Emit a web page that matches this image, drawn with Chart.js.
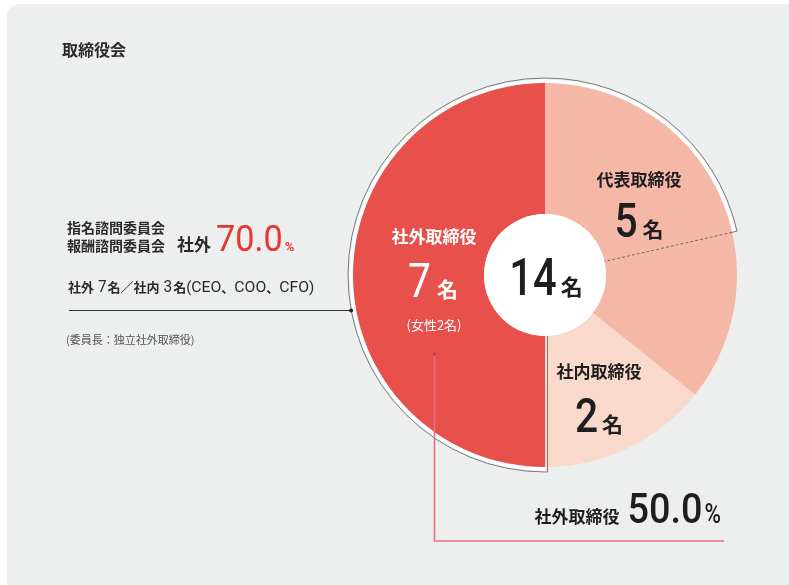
<!DOCTYPE html>
<html lang="ja">
<head>
<meta charset="utf-8">
<title>取締役会</title>
<script src="https://cdn.jsdelivr.net/npm/chart.js@4/dist/chart.umd.min.js"></script>
<style>
  html, body { margin: 0; padding: 0; background: #ffffff; overflow: hidden; }
  #card { position: absolute; left: 7px; top: 4px; width: 800px; height: 600px; border-radius: 12px; background: #edefee; }
  #wrap { position: absolute; left: 0; top: 0; width: 789px; height: 585px; }
</style>
</head>
<body>
<div id="card"></div>
<div id="wrap"><canvas id="board" width="789" height="585"></canvas></div>
<script>
// Board composition (persons)
const categories = ['代表取締役', '社内取締役', '社外取締役'];
const members = [5, 2, 7];
const outsideWomen = 2;

// Nomination / compensation advisory committees
const committeeOutside = 7;
const committeeInside = 3;
const committeeInsideRoles = ['CEO', 'COO', 'CFO'];

const sliceColors = ['#f6b8a6', '#fad9cd', '#e8504b'];

const JP = '"Noto Sans CJK JP", "Noto Sans", sans-serif';
const NUM = 'Roboto, "Liberation Sans", sans-serif';

const total = members.reduce((a, b) => a + b, 0);
const boardOutsidePct = (members[2] / total * 100).toFixed(1);
const committeePct = (committeeOutside / (committeeOutside + committeeInside) * 100).toFixed(1);

// Draw a line of mixed-font text pieces sharing one baseline
function runWidth(ctx, parts) {
  let w = 0;
  for (const p of parts) {
    ctx.font = p.f;
    w += ctx.measureText(p.t).width * (p.sx || 1) + (p.gap || 0);
  }
  return w;
}
function drawRun(ctx, parts, x, y, align) {
  const w = runWidth(ctx, parts);
  let cx = align === 'center' ? x - w / 2 : align === 'right' ? x - w : x;
  ctx.textAlign = 'left';
  ctx.textBaseline = 'alphabetic';
  for (const p of parts) {
    ctx.font = p.f;
    ctx.fillStyle = p.c;
    const sx = p.sx || 1;
    ctx.save();
    ctx.translate(cx, y);
    ctx.scale(sx, 1);
    ctx.fillText(p.t, 0, 0);
    ctx.restore();
    cx += ctx.measureText(p.t).width * sx + (p.gap || 0);
  }
}

const boardPlugin = {
  id: 'boardPlugin',
  afterDatasetsDraw(chart) {
    const ctx = chart.ctx;
    const arcs = chart.getDatasetMeta(0).data;
    const rep = arcs[0], outside = arcs[2];
    const cx = rep.x, cy = rep.y, ri = rep.innerRadius, ro = rep.outerRadius;
    const R = ro + 5;

    ctx.save();
    // white centre disc
    ctx.fillStyle = '#ffffff';
    ctx.beginPath();
    ctx.arc(cx, cy, ri, 0, Math.PI * 2);
    ctx.fill();

    // committee share of the board: outside directors + inside members
    const split = rep.startAngle + (rep.endAngle - rep.startAngle) * committeeInside / members[0];
    const a0 = outside.startAngle;
    const a1 = split + Math.PI * 2;

    ctx.strokeStyle = '#ffffff';
    ctx.lineWidth = 3;
    ctx.beginPath();
    ctx.arc(cx, cy, ro + 2, a0, a1);
    ctx.stroke();

    ctx.strokeStyle = '#7a7a7a';
    ctx.lineWidth = 1;
    ctx.beginPath();
    ctx.moveTo(cx + 2.5, cy + ri);
    ctx.lineTo(cx + 2.5, cy + R);
    ctx.arc(cx, cy, R, a0, a1);
    ctx.lineTo(cx + Math.cos(split) * ro, cy + Math.sin(split) * ro);
    ctx.stroke();

    ctx.setLineDash([3, 2]);
    ctx.strokeStyle = '#6f6f6f';
    ctx.beginPath();
    ctx.moveTo(cx + Math.cos(split) * ro, cy + Math.sin(split) * ro);
    ctx.lineTo(cx + Math.cos(split) * ri, cy + Math.sin(split) * ri);
    ctx.stroke();
    ctx.setLineDash([]);

    // leader line from the committee note
    const ly = 310;
    const lx = cx - Math.sqrt(R * R - (ly - cy) * (ly - cy));
    ctx.strokeStyle = '#333333';
    ctx.lineWidth = 1;
    ctx.beginPath();
    ctx.moveTo(69, ly + 0.5);
    ctx.lineTo(lx, ly + 0.5);
    ctx.stroke();
    ctx.fillStyle = '#222222';
    ctx.beginPath();
    ctx.arc(lx, ly + 0.5, 2, 0, Math.PI * 2);
    ctx.fill();

    // leader line to the outside-director ratio
    const px = 434.5, py = 354;
    ctx.strokeStyle = '#ec6f82';
    ctx.lineWidth = 1.6;
    ctx.beginPath();
    ctx.moveTo(px, py);
    ctx.lineTo(px, 541);
    ctx.lineTo(724, 541);
    ctx.stroke();
    ctx.fillStyle = '#d9344a';
    ctx.beginPath();
    ctx.arc(px, py, 1.8, 0, Math.PI * 2);
    ctx.fill();

    const dark = '#1e1e1e';
    const white = '#ffffff';

    // slice labels
    drawRun(ctx, [{ t: categories[2], f: `bold 17px ${JP}`, c: white }], 434, 243, 'center');
    drawRun(ctx, [
      { t: String(members[2]), f: `48px ${NUM}`, c: white, sx: 0.85, gap: 6 },
      { t: '名', f: `bold 21px ${JP}`, c: white }
    ], 433, 297, 'center');
    drawRun(ctx, [{ t: `(女性${outsideWomen}名)`, f: `13px ${JP}`, c: white }], 434, 330, 'center');

    drawRun(ctx, [{ t: categories[0], f: `bold 17px ${JP}`, c: dark }], 639, 186, 'center');
    drawRun(ctx, [
      { t: String(members[0]), f: `500 48px ${NUM}`, c: dark, sx: 0.85, gap: 5 },
      { t: '名', f: `bold 21px ${JP}`, c: dark }
    ], 639, 237, 'center');

    drawRun(ctx, [{ t: categories[1], f: `bold 17px ${JP}`, c: dark }], 599, 378, 'center');
    drawRun(ctx, [
      { t: String(members[1]), f: `500 48px ${NUM}`, c: dark, sx: 0.85, gap: 4 },
      { t: '名', f: `bold 21px ${JP}`, c: dark }
    ], 599, 432, 'center');

    drawRun(ctx, [
      { t: String(total), f: `500 52px ${NUM}`, c: dark, sx: 0.8, gap: 4 },
      { t: '名', f: `bold 22px ${JP}`, c: dark }
    ], 546, 295, 'center');

    // board ratio
    drawRun(ctx, [
      { t: categories[2], f: `bold 17px ${JP}`, c: dark, gap: 8 },
      { t: boardOutsidePct, f: `500 42px ${NUM}`, c: dark, sx: 0.9, gap: 2 },
      { t: '%', f: `500 28px ${NUM}`, c: dark, sx: 0.8 }
    ], 721, 523, 'right');

    // title
    drawRun(ctx, [{ t: '取締役会', f: `bold 16px ${JP}`, c: '#2a2a2a' }], 62, 56, 'left');

    // committee note
    const ink = '#2a2a2a';
    drawRun(ctx, [{ t: '指名諮問委員会', f: `bold 14px ${JP}`, c: ink }], 67, 233, 'left');
    drawRun(ctx, [
      { t: '報酬諮問委員会', f: `bold 14px ${JP}`, c: ink, gap: 12 },
      { t: '社外', f: `bold 17px ${JP}`, c: ink, gap: 5 },
      { t: committeePct, f: `36px ${NUM}`, c: '#e8352f', sx: 0.95, gap: 2 },
      { t: '%', f: `bold 13px ${NUM}`, c: '#e8352f' }
    ], 67, 251, 'left');

    const roleParts = [{ t: '(', f: `15px ${NUM}`, c: ink }];
    committeeInsideRoles.forEach((r, i) => {
      roleParts.push({ t: r, f: `15px ${NUM}`, c: ink, sx: 1.05 });
      if (i < committeeInsideRoles.length - 1) roleParts.push({ t: '、', f: `bold 13px ${JP}`, c: ink });
    });
    roleParts.push({ t: ')', f: `15px ${NUM}`, c: ink });
    drawRun(ctx, [
      { t: '社外', f: `bold 13px ${JP}`, c: ink, gap: 4 },
      { t: String(committeeOutside), f: `17px ${NUM}`, c: ink, sx: 0.9, gap: 1 },
      { t: '名／社内', f: `bold 13px ${JP}`, c: ink, gap: 4 },
      { t: String(committeeInside), f: `17px ${NUM}`, c: ink, sx: 0.9, gap: 1 },
      { t: '名', f: `bold 13px ${JP}`, c: ink },
      ...roleParts
    ], 68, 292, 'left');
    drawRun(ctx, [{ t: '(委員長：独立社外取締役)', f: `11px ${JP}`, c: '#555555' }], 66, 344, 'left');

    ctx.restore();
  }
};

new Chart(document.getElementById('board'), {
  type: 'doughnut',
  data: {
    labels: categories,
    datasets: [{
      data: members,
      backgroundColor: sliceColors,
      borderWidth: 0,
      hoverOffset: 0,
      offset: 0
    }]
  },
  options: {
    responsive: false,
    animation: false,
    events: [],
    cutout: 61,
    rotation: 0,
    layout: { padding: { left: 353, right: 52, top: 83, bottom: 118 } },
    plugins: { legend: { display: false }, tooltip: { enabled: false } }
  },
  plugins: [boardPlugin]
});
</script>
</body>
</html>
